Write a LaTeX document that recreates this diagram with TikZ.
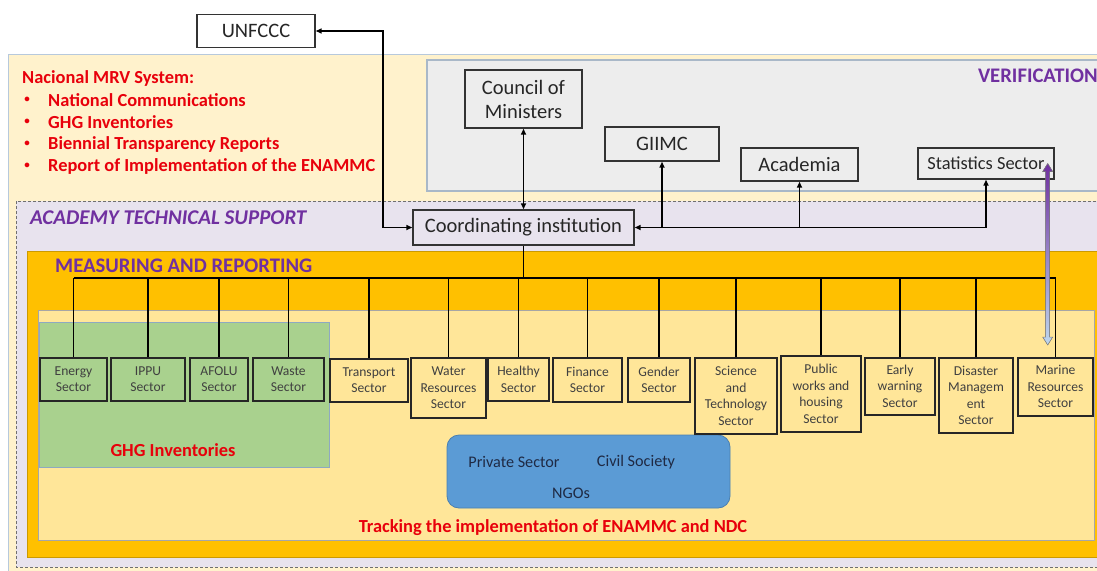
\documentclass[tikz,border=0pt]{standalone}
\usepackage{fontspec}
\setmainfont{Carlito}
\usetikzlibrary{arrows.meta,calc}

\definecolor{beige}{HTML}{FFF2CC}
\definecolor{beigeline}{HTML}{B7C9DC}
\definecolor{verifill}{HTML}{EDEDED}
\definecolor{veriline}{HTML}{A9B8C8}
\definecolor{lavender}{HTML}{E8E3EE}
\definecolor{dashline}{HTML}{6F6F6F}
\definecolor{orange}{HTML}{FFC000}
\definecolor{paleyellow}{HTML}{FFE699}
\definecolor{greenbox}{HTML}{A9D18E}
\definecolor{greenline}{HTML}{8EA9C1}
\definecolor{ngoblue}{HTML}{5B9BD5}
\definecolor{ngoline}{HTML}{4A7FB0}
\definecolor{titlepurple}{HTML}{7030A0}
\definecolor{listred}{HTML}{E8000B}
\definecolor{boxline}{HTML}{333333}
\definecolor{boxtext}{HTML}{262626}
\definecolor{sectortext}{HTML}{404040}
\definecolor{ngotext}{HTML}{1F2A44}
\definecolor{arrowblue}{HTML}{BDD7EE}

\tikzset{
  orgbox/.style={draw=boxline, line width=1.4pt, text=boxtext, inner sep=2pt,
    align=center, font=\fontsize{20.5}{24}\selectfont},
  sectorbox/.style={draw=black!85, line width=1.6pt, text=sectortext, inner sep=1pt,
    align=center, anchor=north, font=\fontsize{13.6}{16.5}\selectfont},
  link/.style={draw=black, line width=1.9pt},
  tip/.style={-{Triangle[length=6pt,width=5pt]}},
  bothtips/.style={{Triangle[length=6pt,width=5pt]}-{Triangle[length=6pt,width=5pt]}},
  listtext/.style={text=listred, anchor=west, inner sep=0pt,
    font=\bfseries\fontsize{18.4}{21}\selectfont},
  bulletmark/.style={text=listred, inner sep=0pt, font=\bfseries\fontsize{11}{12}\selectfont},
  heading/.style={text=titlepurple, inner sep=0pt, font=\bfseries\fontsize{20.7}{24}\selectfont},
  redlabel/.style={text=listred, inner sep=0pt, font=\bfseries\fontsize{18.4}{21}\selectfont},
  ngolabel/.style={text=ngotext, inner sep=0pt, font=\fontsize{16.2}{19}\selectfont},
}

\begin{document}
\begin{tikzpicture}[x=1pt,y=-1pt]
\useasboundingbox (0,0) rectangle (1097,570);
\fill[white] (0,0) rectangle (1097,570);

\begin{scope}
\clip (0,0) rectangle (1097,570);
% nested background panels
\filldraw[fill=beige, draw=beigeline, line width=1pt] (8,54) rectangle (1110,590);
\filldraw[fill=verifill, draw=veriline, line width=1.2pt] (427,60) rectangle (1110,191);
\filldraw[fill=lavender, draw=dashline, line width=1pt, dash pattern=on 3pt off 2pt] (16,201) rectangle (1110,567);
\filldraw[fill=orange, draw=orange!80!black, line width=0.5pt] (27,251) rectangle (1110,557);
\filldraw[fill=paleyellow, draw=black!35, line width=0.8pt] (38,310) rectangle (1094,540);
\filldraw[fill=greenbox, draw=greenline, line width=0.8pt] (39,322) rectangle (329,467);
\filldraw[fill=ngoblue, draw=ngoline, line width=0.8pt, rounded corners=12pt] (447,435) rectangle (730,508);
\end{scope}

% panel titles and lists
\node[listtext] (mrvtitle) at (22,78) {Nacional MRV System:};
\node[bulletmark] (b1) at (27,100) {•};
\node[bulletmark] (b2) at (27,122) {•};
\node[bulletmark] (b3) at (27,144) {•};
\node[bulletmark] (b4) at (27,166) {•};
\node[listtext] (l1) at (48,100) {National Communications};
\node[listtext] (l2) at (48,122) {GHG Inventories};
\node[listtext] (l3) at (48,144) {Biennial Transparency Reports};
\node[listtext] (l4) at (48,166) {Report of Implementation of the ENAMMC};

\node[heading, anchor=east] (verif) at (1098,76) {VERIFICATION};
\node[heading, anchor=west, font=\bfseries\itshape\fontsize{21}{24}\selectfont] (academy) at (30,218) {ACADEMY TECHNICAL SUPPORT};
\node[heading, anchor=west] (measuring) at (55,266) {MEASURING AND REPORTING};

\node[redlabel] (ghg) at (173,450) {GHG Inventories};
\node[redlabel] (tracking) at (553,528) {Tracking the implementation of ENAMMC and NDC};

\node[ngolabel] (private) at (514,462) {Private Sector};
\node[ngolabel] (civil) at (636,462) {Civil Society};
\node[ngolabel] (ngos) at (571,493) {NGOs};

% institutional boxes
\node[orgbox, fill=white, minimum width=118pt, minimum height=33pt] (unfccc) at (256,31) {UNFCCC};
\node[orgbox, fill=verifill, minimum width=117pt, minimum height=58pt] (council) at (523.5,99) {Council of\\Ministers};
\node[orgbox, fill=verifill, minimum width=114pt, minimum height=34pt] (giimc) at (662,144) {GIIMC};
\node[orgbox, fill=verifill, minimum width=117pt, minimum height=33pt] (academia) at (799.5,164.5) {Academia};
\node[orgbox, fill=verifill, minimum width=136pt, minimum height=31pt, font=\fontsize{18.4}{21}\selectfont] (stat) at (986,163.5) {Statistics Sector};
\node[orgbox, fill=lavender, minimum width=221pt, minimum height=35pt] (coord) at (523.5,227.5) {Coordinating institution};

% sector boxes
\node[sectorbox, fill=greenbox, minimum width=67pt, minimum height=43pt] (energy) at (73.5,357) {Energy\\Sector};
\node[sectorbox, fill=greenbox, minimum width=74pt, minimum height=43pt] (ippu) at (148,357) {IPPU\\Sector};
\node[sectorbox, fill=greenbox, minimum width=58pt, minimum height=43pt] (afolu) at (219,357) {AFOLU\\Sector};
\node[sectorbox, fill=greenbox, minimum width=71pt, minimum height=43pt] (waste) at (288.5,357) {Waste\\Sector};
\node[sectorbox, fill=paleyellow, minimum width=78pt, minimum height=43pt] (transport) at (369,358) {Transport\\Sector};
\node[sectorbox, fill=paleyellow, minimum width=75pt, minimum height=60pt] (water) at (448.5,357) {Water\\Resources\\Sector};
\node[sectorbox, fill=paleyellow, minimum width=61pt, minimum height=43pt] (healthy) at (518.5,357) {Healthy\\Sector};
\node[sectorbox, fill=paleyellow, minimum width=69pt, minimum height=44pt] (finance) at (587.5,357) {Finance\\Sector};
\node[sectorbox, fill=paleyellow, minimum width=62pt, minimum height=44pt] (gender) at (659,357) {Gender\\Sector};
\node[sectorbox, fill=paleyellow, minimum width=82pt, minimum height=76pt] (science) at (736,357) {Science\\and\\Technology\\Sector};
\node[sectorbox, fill=paleyellow, minimum width=80pt, minimum height=76pt] (public) at (821,355) {Public\\works and\\housing\\Sector};
\node[sectorbox, fill=paleyellow, minimum width=70pt, minimum height=57pt] (early) at (900,357) {Early\\warning\\Sector};
\node[sectorbox, fill=paleyellow, minimum width=74pt, minimum height=75pt] (disaster) at (976,357) {Disaster\\Managem\\ent\\Sector};
\node[sectorbox, fill=paleyellow, minimum width=75pt, minimum height=58pt] (marine) at (1055.5,357) {Marine\\Resources\\Sector};

% reporting links
\coordinate (uturn) at (383,31);
\draw[link, bothtips] (unfccc.east) -- (uturn) |- (coord.west);
\draw[link, bothtips] (council.south) -- (coord.north);
\draw[link, bothtips] (stat.south) |- (coord.east);
\draw[link, tip] (giimc.south |- coord.east) -- (giimc.south);
\draw[link, tip] (academia.south |- coord.east) -- (academia.south);

% sector bus
\coordinate (bus) at (523.5,278);
\draw[link] (coord.south) -- (bus);
\draw[link] (energy.north |- bus) -- (marine.north |- bus);
\foreach \s in {energy,ippu,afolu,waste,transport,water,healthy,finance,gender,science,public,early,disaster,marine}
  \draw[link] (\s.north |- bus) -- (\s.north);

% data flow between statistics and marine sector
\path (stat.east) ++(-7,0) coordinate (vtop);
\path (vtop |- marine.north) ++(0,-12) coordinate (vbot);
\filldraw[top color=titlepurple, bottom color=arrowblue, draw=black!50, line width=0.5pt]
  (vtop) -- ($(vtop)+(5,8)$) -- ($(vtop)+(2,8)$) -- ($(vbot)+(2,-8)$) -- ($(vbot)+(5,-8)$)
  -- (vbot) -- ($(vbot)+(-5,-8)$) -- ($(vbot)+(-2,-8)$) -- ($(vtop)+(-2,8)$) -- ($(vtop)+(-5,8)$) -- cycle;
\end{tikzpicture}
\end{document}
